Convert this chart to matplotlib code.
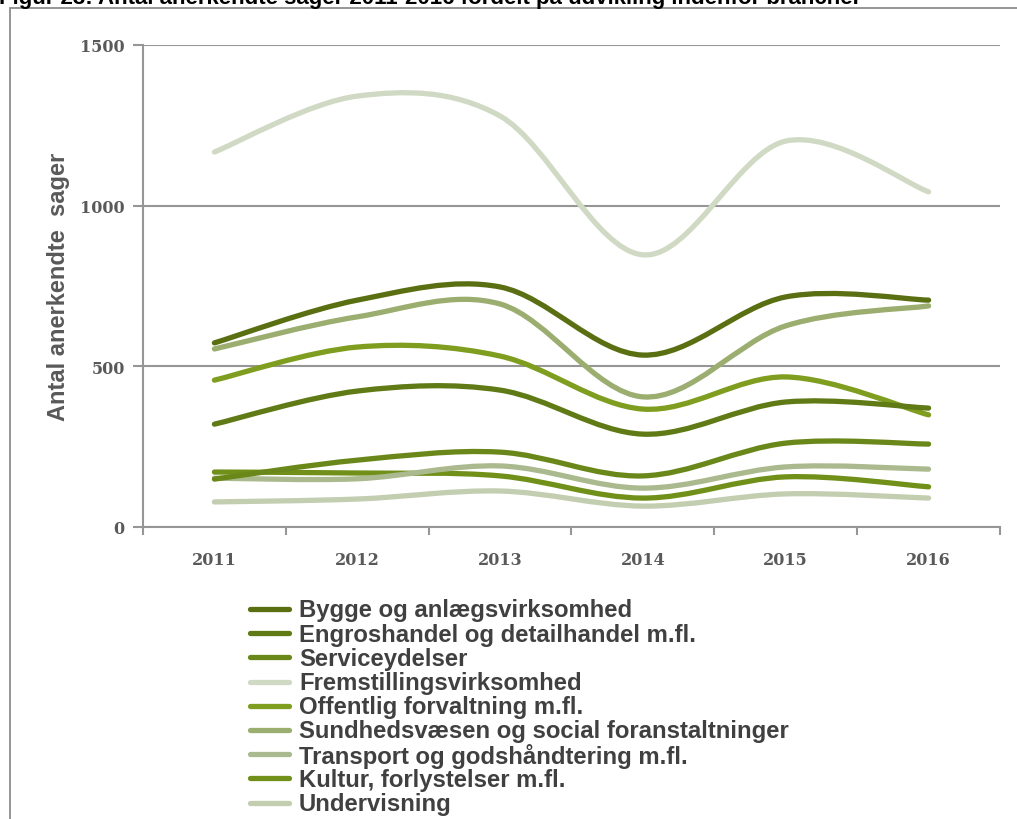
import matplotlib
matplotlib.use("Agg")
import matplotlib.pyplot as plt
from matplotlib.path import Path
from matplotlib.patches import PathPatch, Rectangle
from matplotlib.lines import Line2D
import numpy as np

# ---------------- data ----------------
years = ["2011", "2012", "2013", "2014", "2015", "2016"]
series_names = [
    "Bygge og anlægsvirksomhed",
    "Engroshandel og detailhandel m.fl.",
    "Serviceydelser",
    "Fremstillingsvirksomhed",
    "Offentlig forvaltning m.fl.",
    "Sundhedsvæsen og social foranstaltninger",
    "Transport og godshåndtering m.fl.",
    "Kultur, forlystelser m.fl.",
    "Undervisning",
]
bygge = [573, 706, 747, 535, 716, 706]
engros = [320, 423, 426, 289, 389, 370]
service = [149, 208, 233, 159, 261, 258]
fremstilling = [1167, 1341, 1279, 847, 1201, 1043]
offentlig = [457, 560, 532, 367, 467, 349]
sundhed = [554, 654, 694, 405, 626, 688]
transport = [152, 150, 190, 121, 187, 180]
kultur = [171, 168, 159, 90, 156, 125]
undervisning = [78, 87, 112, 65, 103, 90]
values = [bygge, engros, service, fremstilling, offentlig, sundhed,
          transport, kultur, undervisning]
colors = ["#5a6e12", "#607a16", "#6a8719", "#d0d9c3", "#7f9d1f",
          "#9bad6f", "#abba8e", "#71901a", "#c3cdb0"]
y_ticks = [0, 500, 1000, 1500]

W, H = 1017, 820
fig = plt.figure(figsize=(W / 100, H / 100), dpi=100)

def fx(px):
    return px / W

def fy(py):
    return 1 - py / H

# outer frame
fig.add_artist(Rectangle((fx(10), -0.2), 1.2, fy(9) + 0.2, transform=fig.transFigure,
                         fill=False, edgecolor="#8e8e8e", lw=1.3, clip_on=False))
# title (cut at top in the reference)
fig.text(fx(-1), fy(4), "Figur 23: Antal anerkendte sager 2011-2016 fordelt på udvikling indenfor brancher",
         fontsize=16, fontweight="bold", family="Liberation Sans", va="baseline", ha="left",
         color="black")

ax = fig.add_axes([fx(143), fy(528), fx(1000) - fx(143), fy(46) - fy(528)])
ax.set_xlim(-0.5, 5.5)
ax.set_ylim(0, 1500)

grey = "#969696"
for s in ["top", "right"]:
    ax.spines[s].set_visible(False)
for s in ["left", "bottom"]:
    ax.spines[s].set_color(grey)
    ax.spines[s].set_linewidth(1.5)

ax.set_yticks(y_ticks)
ax.set_yticklabels([str(v) for v in y_ticks])
ax.yaxis.grid(True, color=grey, lw=1.5)
ax.set_axisbelow(True)
ax.tick_params(axis="y", direction="out", length=7.2, width=1.5, color=grey, pad=6,
               labelsize=11.5, labelcolor="#595959")
ax.set_xticks(range(len(years)))
ax.set_xticklabels(years)
ax.set_xticks(np.arange(-0.5, 6.0, 1.0), minor=True)
ax.tick_params(axis="x", which="major", length=0, pad=17, labelsize=11.5, labelcolor="#595959")
ax.tick_params(axis="x", which="minor", direction="out", length=5.5, width=1.5, color=grey)
for lab in ax.get_xticklabels() + ax.get_yticklabels():
    lab.set_fontfamily("DejaVu Serif")
    lab.set_fontweight("bold")

ax.set_ylabel("Antal anerkendte  sager", fontsize=17, fontweight="bold",
              family="Liberation Sans", color="#595959", labelpad=7)


def smooth_path(xs, ys):
    pts = np.column_stack([xs, ys]).astype(float)
    n = len(pts)
    verts = [pts[0]]
    codes = [Path.MOVETO]
    for i in range(n - 1):
        p0 = pts[i - 1] if i > 0 else pts[i]
        p1 = pts[i]
        p2 = pts[i + 1]
        p3 = pts[i + 2] if i + 2 < n else pts[i + 1]
        c1 = p1 + (p2 - p0) / 6.0
        c2 = p2 - (p3 - p1) / 6.0
        verts += [c1, c2, p2]
        codes += [Path.CURVE4] * 3
    return Path(verts, codes)


xs = np.arange(len(years))
# draw in reverse order so first series on top
for name, vals, col in list(zip(series_names, values, colors))[::-1]:
    patch = PathPatch(smooth_path(xs, vals), fill=False, edgecolor=col, lw=3.8,
                      capstyle="round", joinstyle="round", zorder=3)
    ax.add_patch(patch)

# legend
for i, (name, col) in enumerate(zip(series_names, colors)):
    yc = 610 + 24.2 * i
    fig.add_artist(Line2D([fx(250), fx(289)], [fy(yc), fy(yc)], color=col, lw=3.8,
                          solid_capstyle="round", transform=fig.transFigure))
    fig.text(fx(299), fy(yc + 1), name, fontsize=17.2, fontweight="bold", family="Liberation Sans",
             color="#404040", va="center", ha="left")

fig.savefig("out.png", dpi=100)
